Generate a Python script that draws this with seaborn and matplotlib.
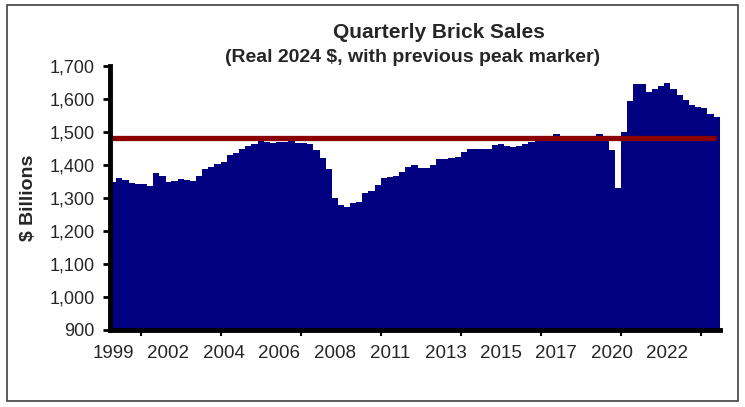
import matplotlib
matplotlib.use("Agg")
import matplotlib.pyplot as plt
import seaborn as sns
import pandas as pd
import numpy as np
from matplotlib.patches import Rectangle

# ---- data (quarterly, starting 1999 Q4) ----
start_year = 1999
start_quarter = 4
sales = [
    1349, 1360, 1355, 1346, 1343, 1341, 1337, 1375, 1368, 1350,
    1352, 1357, 1356, 1353, 1368, 1387, 1395, 1403, 1410, 1430,
    1435, 1450, 1458, 1464, 1474, 1471, 1468, 1469, 1471, 1473,
    1468, 1468, 1464, 1445, 1420, 1387, 1299, 1279, 1272, 1284,
    1289, 1316, 1322, 1339, 1360, 1365, 1367, 1380, 1395, 1400,
    1392, 1390, 1400, 1417, 1418, 1420, 1425, 1440, 1447, 1450,
    1450, 1448, 1460, 1463, 1458, 1456, 1459, 1464, 1471, 1474,
    1476, 1478, 1495, 1482, 1480, 1478, 1480, 1482, 1483, 1495,
    1480, 1445, 1330, 1500, 1595, 1645, 1645, 1622, 1630, 1638,
    1648, 1630, 1612, 1597, 1583, 1577, 1572, 1556, 1545,
]
previous_peak = 1482
label_step = 9
y_ticks = [900, 1000, 1100, 1200, 1300, 1400, 1500, 1600, 1700]

title = "Quarterly Brick Sales"
subtitle = "(Real 2024 $, with previous peak marker)"
ylabel = "$ Billions"

# ---- build table ----
n = len(sales)
qidx = [(start_quarter - 1 + i) for i in range(n)]
years = [start_year + q // 4 for q in qidx]
df = pd.DataFrame({"idx": list(range(n)), "year": years, "sales": sales})

sns.set_theme(style="white")
plt.rcParams["font.family"] = ["Liberation Sans", "DejaVu Sans"]

W, H = 745, 407
fig = plt.figure(figsize=(W / 100, H / 100), dpi=100)
ax = fig.add_axes([110 / W, 1 - 330 / H, (719.5 - 110) / W, (330 - 66) / H])

sns.barplot(data=df, x="idx", y="sales", color="#000080", saturation=1,
            width=1.06, linewidth=0, ax=ax, zorder=2)
for p in ax.patches:
    p.set_antialiased(False)

ax.axhline(previous_peak, xmin=0, xmax=0.995, color="#8B0000", lw=3.8, zorder=3,
           solid_capstyle="butt")

ax.set_ylim(y_ticks[0], y_ticks[-1])
ax.set_xlim(-0.5, n - 0.5)
ax.set_yticks(y_ticks)
ax.set_yticklabels([f"{v:,}" for v in y_ticks], fontsize=13)

lab_pos = list(range(0, n, label_step))
ax.set_xticks(lab_pos)
ax.set_xticklabels([str(df["year"][p]) for p in lab_pos], fontsize=13.5)
ax.tick_params(axis="x", which="major", length=0, pad=11)
ax.set_xticks(np.arange(4.5, n, 13), minor=True)
ax.tick_params(axis="x", which="minor", length=4, width=1.5, color="black",
               direction="out", bottom=True)
ax.tick_params(axis="y", which="major", length=5, width=2, color="black",
               direction="out", left=True, pad=6)

ax.set_xlabel("")
ax.set_ylabel(ylabel, fontsize=14, fontweight="bold")
ax.yaxis.set_label_coords(-0.12, 0.5)

for s in ["top", "right"]:
    ax.spines[s].set_visible(False)
for s in ["left", "bottom"]:
    ax.spines[s].set_visible(True)
    ax.spines[s].set_color("black")
    ax.spines[s].set_linewidth(3.5)
    ax.spines[s].set_zorder(5)
ax.grid(False)

fig.text(439 / W, 1 - 33 / H, title, ha="center", va="center",
         fontsize=15, fontweight="bold")
fig.text(413 / W, 1 - 58 / H, subtitle, ha="center", va="center",
         fontsize=14, fontweight="bold")

fig.patches.append(Rectangle((7 / W, 1 - 401 / H), (738 - 7) / W, (401 - 5) / H,
                             transform=fig.transFigure, fill=False,
                             edgecolor="#404040", linewidth=1.2))

fig.savefig("out.png", dpi=100)
